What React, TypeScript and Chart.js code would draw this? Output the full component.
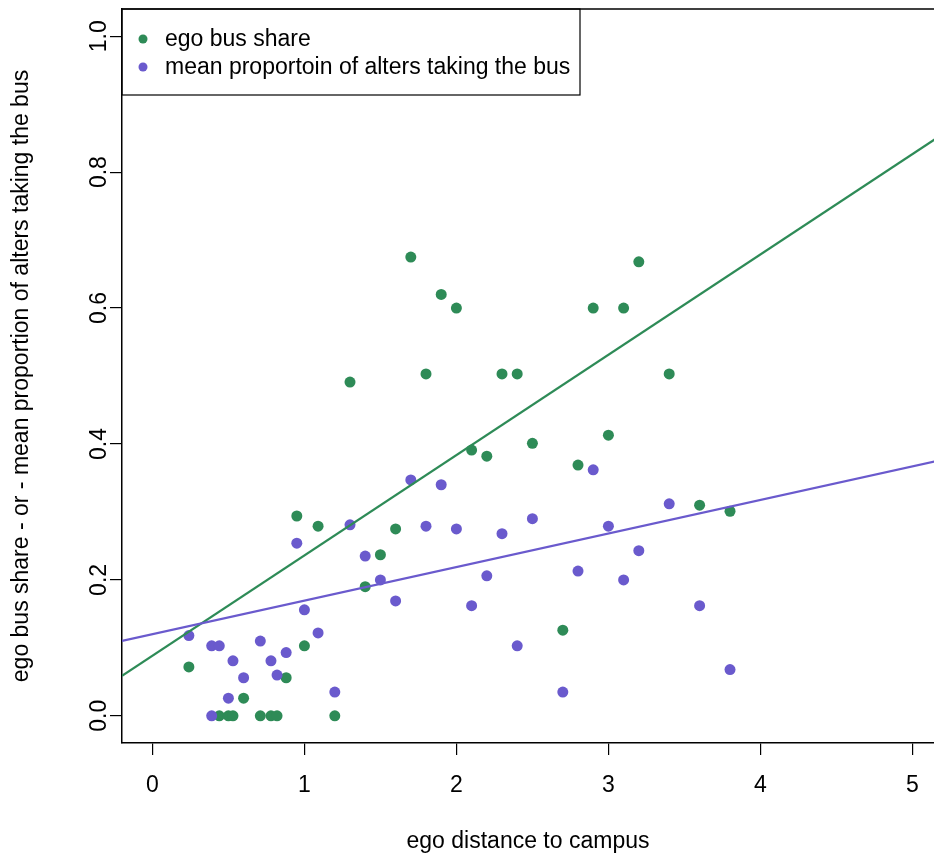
import { useEffect, useRef } from "react";
import { Chart, registerables } from "chart.js";
Chart.register(...registerables);

const egoX = [0.24, 0.44, 0.5, 0.53, 0.6, 0.71, 0.78, 0.82, 0.88, 0.95, 1.0, 1.09, 1.2, 1.3, 1.4, 1.5, 1.6, 1.7, 1.8, 1.9, 2.0, 2.1, 2.2, 2.3, 2.4, 2.5, 2.7, 2.8, 2.9, 3.0, 3.1, 3.2, 3.4, 3.6, 3.8];
const egoY = [0.072, 0, 0, 0, 0.026, 0, 0, 0, 0.056, 0.294, 0.103, 0.279, 0, 0.491, 0.19, 0.237, 0.275, 0.675, 0.503, 0.62, 0.6, 0.391, 0.382, 0.503, 0.503, 0.401, 0.126, 0.369, 0.6, 0.413, 0.6, 0.668, 0.503, 0.31, 0.301];
const altX = [0.24, 0.39, 0.39, 0.44, 0.5, 0.53, 0.6, 0.71, 0.78, 0.82, 0.88, 0.95, 1.0, 1.09, 1.2, 1.3, 1.4, 1.5, 1.6, 1.7, 1.8, 1.9, 2.0, 2.1, 2.2, 2.3, 2.4, 2.5, 2.7, 2.8, 2.9, 3.0, 3.1, 3.2, 3.4, 3.6, 3.8];
const altY = [0.118, 0, 0.103, 0.103, 0.026, 0.081, 0.056, 0.11, 0.081, 0.06, 0.093, 0.254, 0.156, 0.122, 0.035, 0.281, 0.235, 0.2, 0.169, 0.347, 0.279, 0.34, 0.275, 0.162, 0.206, 0.268, 0.103, 0.29, 0.035, 0.213, 0.362, 0.279, 0.2, 0.243, 0.312, 0.162, 0.068];
const xTicks = [0, 1, 2, 3, 4, 5];
const yTicks = [0, 0.2, 0.4, 0.6, 0.8, 1.0];
const egoFit = { intercept: 0.0885, slope: 0.1476 };
const altFit = { intercept: 0.12, slope: 0.0494 };
const lineX = [-0.2, 5.2];

const GREEN = "#2E8B57";
const PURPLE = "#6A5ACD";
const FONT = "'Liberation Sans', Arial, sans-serif";
const FS = 23;

export default function App() {
  const ref = useRef<HTMLCanvasElement>(null);
  useEffect(() => {
    document.body.style.margin = "0";
    const canvas = ref.current!;
    const legendPlugin = {
      id: "rlegend",
      afterDraw(chart: any) {
        const ctx = chart.ctx;
        const area = chart.chartArea;
        ctx.save();
        ctx.strokeStyle = "#000";
        ctx.lineWidth = 1.5;
        ctx.beginPath();
        ctx.moveTo(area.left, area.top);
        ctx.lineTo(area.right + 5, area.top);
        ctx.stroke();
        const ys = chart.scales.y;
        ctx.fillStyle = "#000";
        ctx.font = `${FS}px ${FONT}`;
        ctx.textAlign = "center";
        ctx.textBaseline = "middle";
        yTicks.forEach((v) => {
          const py = ys.getPixelForValue(v);
          ctx.save();
          ctx.translate(100, py);
          ctx.rotate(-Math.PI / 2);
          ctx.fillText(v.toFixed(1), 0, 0);
          ctx.restore();
        });
        const lx = area.left;
        const ly = area.top;
        ctx.lineWidth = 1.2;
        ctx.strokeRect(lx, ly, 458, 86);
        const items = chart.data.datasets.filter((d: any) => d.showInLegend);
        items.forEach((d: any, i: number) => {
          const cy = ly + 30 + i * 28;
          ctx.fillStyle = d.backgroundColor;
          ctx.beginPath();
          ctx.arc(lx + 21, cy, 4.5, 0, Math.PI * 2);
          ctx.fill();
          ctx.fillStyle = "#000";
          ctx.textAlign = "left";
          ctx.textBaseline = "middle";
          ctx.font = `${FS}px ${FONT}`;
          ctx.fillText(d.label, lx + 43, cy + 1);
        });
        ctx.restore();
      },
    };
    const chart = new Chart(canvas, {
      type: "scatter",
      data: {
        datasets: [
          {
            label: "ego bus share",
            showInLegend: true,
            data: egoX.map((x, i) => ({ x, y: egoY[i] })),
            backgroundColor: GREEN,
            borderColor: GREEN,
            pointRadius: 5.5,
            borderWidth: 0,
            order: 3,
          } as any,
          {
            label: "mean proportoin of alters taking the bus",
            showInLegend: true,
            data: altX.map((x, i) => ({ x, y: altY[i] })),
            backgroundColor: PURPLE,
            borderColor: PURPLE,
            pointRadius: 5.5,
            borderWidth: 0,
            order: 2,
          } as any,
          {
            type: "line",
            label: "ego fit",
            data: lineX.map((x) => ({ x, y: egoFit.intercept + egoFit.slope * x })),
            borderColor: GREEN,
            borderWidth: 2.2,
            pointRadius: 0,
            showLine: true,
            order: 1,
          } as any,
          {
            type: "line",
            label: "alter fit",
            data: lineX.map((x) => ({ x, y: altFit.intercept + altFit.slope * x })),
            borderColor: PURPLE,
            borderWidth: 2.2,
            pointRadius: 0,
            showLine: true,
            order: 0,
          } as any,
        ],
      },
      options: {
        responsive: false,
        animation: false,
        layout: { autoPadding: false, padding: { top: 9, right: 0, left: 0, bottom: 0 } },
        plugins: { legend: { display: false }, tooltip: { enabled: false } },
        scales: {
          x: {
            type: "linear",
            min: -0.2,
            max: 5.142,
            afterBuildTicks: (s: any) => {
              s.ticks = xTicks.map((v) => ({ value: v }));
            },
            afterFit: (s: any) => {
              s.height = 116;
              s.paddingLeft = 0;
              s.paddingRight = 0;
            },
            grid: { drawOnChartArea: false, drawTicks: true, tickLength: 12, color: "#000", lineWidth: 1.2 },
            border: { display: true, color: "#000", width: 1.5 },
            ticks: { color: "#000", font: { family: FONT, size: FS }, padding: 17, maxRotation: 0, callback: (v: any) => String(v) },
            title: { display: true, text: "ego distance to campus", color: "#000", font: { family: FONT, size: FS }, padding: { top: 22 } },
          },
          y: {
            type: "linear",
            min: -0.04,
            max: 1.04,
            afterBuildTicks: (s: any) => {
              s.ticks = yTicks.map((v) => ({ value: v }));
            },
            afterFit: (s: any) => {
              s.width = 122;
              s.paddingTop = 0;
              s.paddingBottom = 0;
            },
            grid: { drawOnChartArea: false, drawTicks: true, tickLength: 12, color: "#000", lineWidth: 1.2 },
            border: { display: true, color: "#000", width: 1.5 },
            ticks: { display: false },
            title: { display: true, text: "ego bus share - or - mean proportion of alters taking the bus", color: "#000", font: { family: FONT, size: FS }, padding: { top: 8, bottom: 0 } },
          },
        },
      },
      plugins: [legendPlugin],
    });
    return () => chart.destroy();
  }, []);
  return (
    <div style={{ position: "absolute", left: 0, top: 0, width: 934, height: 859, background: "#fff" }}>
      <canvas ref={ref} width={934} height={859} />
    </div>
  );
}
